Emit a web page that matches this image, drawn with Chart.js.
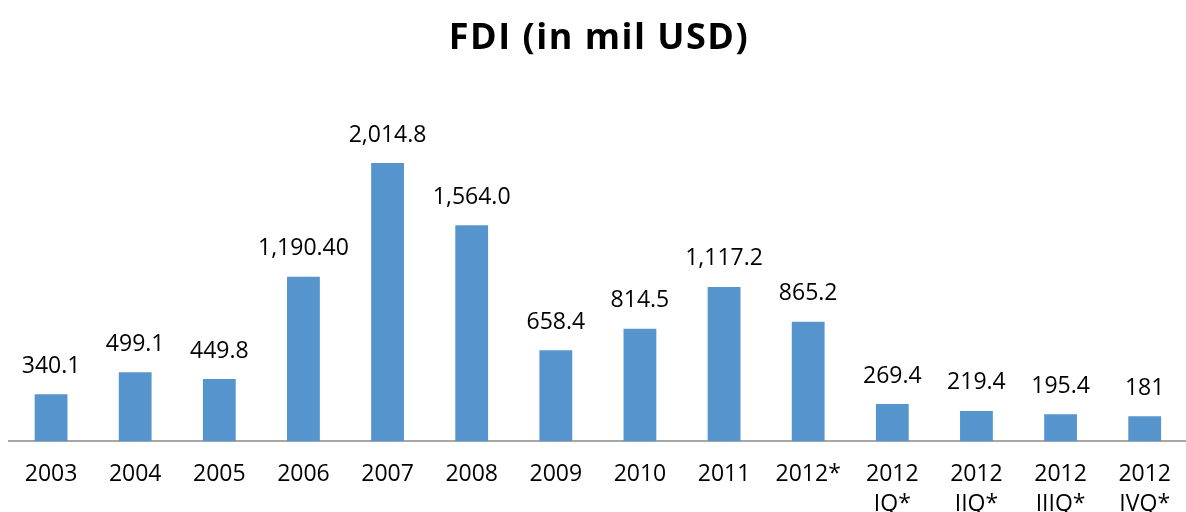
<!DOCTYPE html>
<html>
<head>
<meta charset="utf-8">
<script src="https://cdn.jsdelivr.net/npm/chart.js@4"></script>
<style>
html,body{margin:0;padding:0;background:#fff;overflow:hidden;}
#wrap{position:relative;width:1189px;height:537px;}
</style>
</head>
<body>
<div id="wrap"><canvas id="c"></canvas></div>
<script>
const categories = ["2003","2004","2005","2006","2007","2008","2009","2010","2011","2012*",["2012","IQ*"],["2012","IIQ*"],["2012","IIIQ*"],["2012","IVQ*"]];
const fdiValues = [340.1, 499.1, 449.8, 1190.4, 2014.8, 1564.0, 658.4, 814.5, 1117.2, 865.2, 269.4, 219.4, 195.4, 181];
const valueLabels = ["340.1","499.1","449.8","1,190.40","2,014.8","1,564.0","658.4","814.5","1,117.2","865.2","269.4","219.4","195.4","181"];
const chartTitle = "FDI (in mil USD)";

const FONT = "'Open Sans', 'Liberation Sans', sans-serif";

const labelPlugin = {
  id: 'valueLabels',
  afterDatasetsDraw(chart) {
    const ctx = chart.ctx;
    const meta = chart.getDatasetMeta(0);
    ctx.save();
    ctx.font = "23px " + FONT;
    ctx.fillStyle = "#000";
    ctx.textAlign = "center";
    ctx.textBaseline = "middle";
    meta.data.forEach((bar, i) => {
      ctx.fillText(valueLabels[i], bar.x, bar.y - 28);
    });
    ctx.restore();
  }
};

const titlePlugin = {
  id: 'wideTitle',
  afterDraw(chart) {
    const ctx = chart.ctx;
    ctx.save();
    ctx.font = "bold 36px " + FONT;
    ctx.fillStyle = "#000";
    ctx.textAlign = "center";
    ctx.textBaseline = "alphabetic";
    if ('letterSpacing' in ctx) ctx.letterSpacing = "1.5px";
    ctx.fillText(chartTitle, 599, 49);
    ctx.restore();
  }
};

new Chart(document.getElementById('c'), {
  type: 'bar',
  data: {
    labels: categories,
    datasets: [{
      data: fdiValues,
      backgroundColor: '#5694CE',
      borderWidth: 0,
      barPercentage: 0.39,
      categoryPercentage: 1.0
    }]
  },
  options: {
    responsive: true,
    maintainAspectRatio: false,
    animation: false,
    layout: { padding: { left: 9, right: 0, top: 96, bottom: 0 } },
    plugins: {
      legend: { display: false },
      tooltip: { enabled: false },
      title: { display: false }
    },
    scales: {
      y: {
        display: false,
        min: 0,
        max: 2500
      },
      x: {
        grid: { display: false, drawTicks: false },
        border: { display: true, color: '#A6A6A6', width: 2 },
        ticks: {
          color: '#000',
          font: { family: FONT, size: 23, lineHeight: 1.3 },
          padding: 18,
          maxRotation: 0,
          autoSkip: false
        }
      }
    }
  },
  plugins: [labelPlugin, titlePlugin]
});
</script>
</body>
</html>
